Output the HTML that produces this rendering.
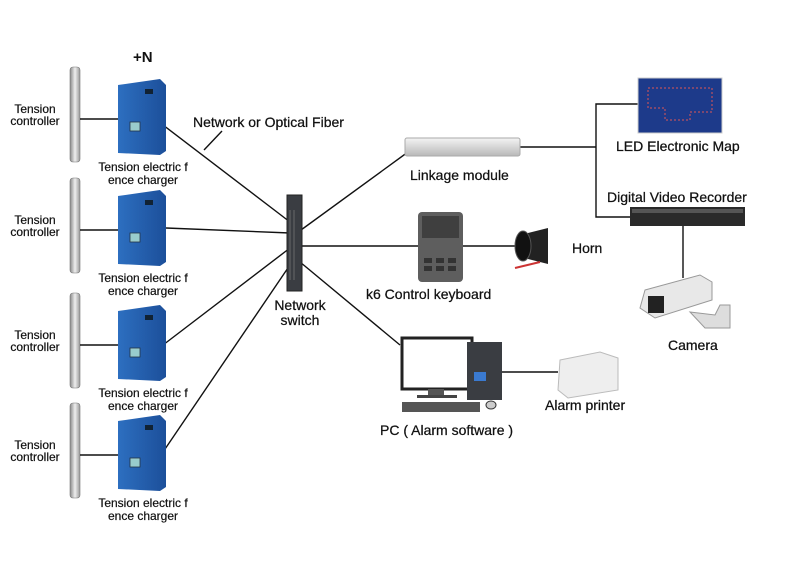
<!DOCTYPE html>
<html><head><meta charset="utf-8"><style>
html,body{margin:0;padding:0;background:#fff;width:790px;height:580px;overflow:hidden}
text{font-family:"Liberation Sans",sans-serif;fill:#111}
.l{font-size:14px;stroke:#111;stroke-width:.25}.s{font-size:12px;stroke:#111;stroke-width:.2}
</style></head><body>
<svg width="790" height="580" viewBox="0 0 790 580" xmlns="http://www.w3.org/2000/svg">
<defs>
<linearGradient id="pole" x1="0" x2="1"><stop offset="0" stop-color="#888"/><stop offset=".5" stop-color="#eee"/><stop offset="1" stop-color="#999"/></linearGradient>
<linearGradient id="blue" x1="0" x2="1"><stop offset="0" stop-color="#2d6fc0"/><stop offset="1" stop-color="#1c4f9a"/></linearGradient>
<linearGradient id="silver" x1="0" y1="0" x2="0" y2="1"><stop offset="0" stop-color="#f4f4f4"/><stop offset="1" stop-color="#b8b8b8"/></linearGradient>
<g id="unit">
<rect x="70" y="0" width="10" height="95" rx="3" fill="url(#pole)" stroke="#777" stroke-width=".6"/>
<line x1="80" y1="52" x2="118" y2="52" stroke="#111" stroke-width="1.5"/>
<path d="M118 18 L160 12 L166 18 L166 84 L160 88 L118 86 Z" fill="url(#blue)"/>
<rect x="130" y="55" width="10" height="9" fill="#9cc" stroke="#234" stroke-width=".8"/>
<rect x="145" y="22" width="8" height="5" fill="#123"/>
<text x="35" y="46" class="s" text-anchor="middle">Tension</text>
<text x="35" y="58" class="s" text-anchor="middle">controller</text>
<text x="143" y="104" class="s" text-anchor="middle">Tension electric f</text>
<text x="143" y="117" class="s" text-anchor="middle">ence charger</text>
</g>
</defs>
<g fill="none" stroke="#111" stroke-width="1.4">
<line x1="163" y1="125" x2="290" y2="222"/>
<line x1="166" y1="228" x2="290" y2="233"/>
<line x1="163" y1="345" x2="290" y2="248"/>
<line x1="163" y1="452" x2="292" y2="262"/>
<line x1="222" y1="131" x2="204" y2="150"/>
<line x1="301" y1="230" x2="408" y2="152"/>
<line x1="301" y1="246" x2="418" y2="246"/>
<line x1="463" y1="246" x2="518" y2="246"/>
<line x1="300" y1="262" x2="400" y2="345"/>
<line x1="520" y1="147" x2="596" y2="147"/>
<polyline points="638,104 596,104 596,217 632,217"/>
<line x1="683" y1="226" x2="683" y2="278"/>
<line x1="500" y1="372" x2="558" y2="372"/>
</g>
<use href="#unit" y="67"/>
<use href="#unit" y="178"/>
<use href="#unit" y="293"/>
<use href="#unit" y="403"/>
<text x="133" y="62" font-size="15" font-weight="bold">+N</text>
<text x="193" y="127" class="l">Network or Optical Fiber</text>
<rect x="287" y="195" width="15" height="96" fill="#3a3d42" stroke="#222"/>
<g stroke="#888" stroke-width=".6"><line x1="290" y1="210" x2="290" y2="280"/><line x1="294" y1="210" x2="294" y2="280"/></g>
<text x="300" y="310" class="l" text-anchor="middle">Network</text>
<text x="300" y="325" class="l" text-anchor="middle">switch</text>
<rect x="405" y="138" width="115" height="18" rx="2" fill="url(#silver)" stroke="#aaa"/>
<text x="410" y="180" class="l">Linkage module</text>
<rect x="638" y="78" width="84" height="55" fill="#1d3a8a" stroke="#ccc"/>
<path d="M648 88 H712 V112 H690 V120 H665 V108 H648 Z" fill="none" stroke="#d55" stroke-width="1" stroke-dasharray="2 2"/>
<text x="616" y="151" class="l">LED Electronic Map</text>
<text x="607" y="202" class="l">Digital Video Recorder</text>
<rect x="630" y="207" width="115" height="19" fill="#2a2a2a"/>
<rect x="632" y="209" width="111" height="4" fill="#555"/>
<path d="M645 290 L700 275 L712 282 L712 300 L655 318 L640 308 Z" fill="#e8e8e8" stroke="#999"/>
<rect x="648" y="296" width="16" height="17" fill="#222"/>
<path d="M690 312 L715 315 L720 305 L730 305 L730 328 L705 328 Z" fill="#ddd" stroke="#999"/>
<text x="668" y="350" class="l">Camera</text>
<rect x="418" y="212" width="45" height="70" rx="4" fill="#5e5e5e"/>
<rect x="422" y="216" width="37" height="22" fill="#3f3f3f"/>
<g fill="#333"><rect x="424" y="258" width="8" height="5"/><rect x="436" y="258" width="8" height="5"/><rect x="448" y="258" width="8" height="5"/><rect x="424" y="266" width="8" height="5"/><rect x="436" y="266" width="8" height="5"/><rect x="448" y="266" width="8" height="5"/></g>
<text x="366" y="299" class="l">k6 Control keyboard</text>
<path d="M520 235 L548 228 L548 264 L520 257 Z" fill="#222"/>
<ellipse cx="523" cy="246" rx="8" ry="15" fill="#111" stroke="#555"/>
<path d="M515 268 L540 262" stroke="#c33" stroke-width="2"/>
<text x="572" y="253" class="l">Horn</text>
<rect x="402" y="338" width="70" height="51" fill="#fff" stroke="#222" stroke-width="3"/>
<rect x="428" y="389" width="16" height="6" fill="#555"/>
<rect x="417" y="395" width="40" height="3" fill="#444"/>
<rect x="467" y="342" width="35" height="58" fill="#3a3d42"/>
<rect x="474" y="372" width="12" height="9" fill="#3a7ad0"/>
<rect x="402" y="402" width="78" height="10" fill="#555"/>
<ellipse cx="491" cy="405" rx="5" ry="4" fill="#ccc" stroke="#333"/>
<text x="380" y="435" class="l">PC ( Alarm software )</text>
<path d="M560 360 L600 352 L618 358 L618 390 L568 398 L558 390 Z" fill="#eee" stroke="#bbb"/>
<text x="545" y="410" class="l">Alarm printer</text>
</svg>
</body></html>
